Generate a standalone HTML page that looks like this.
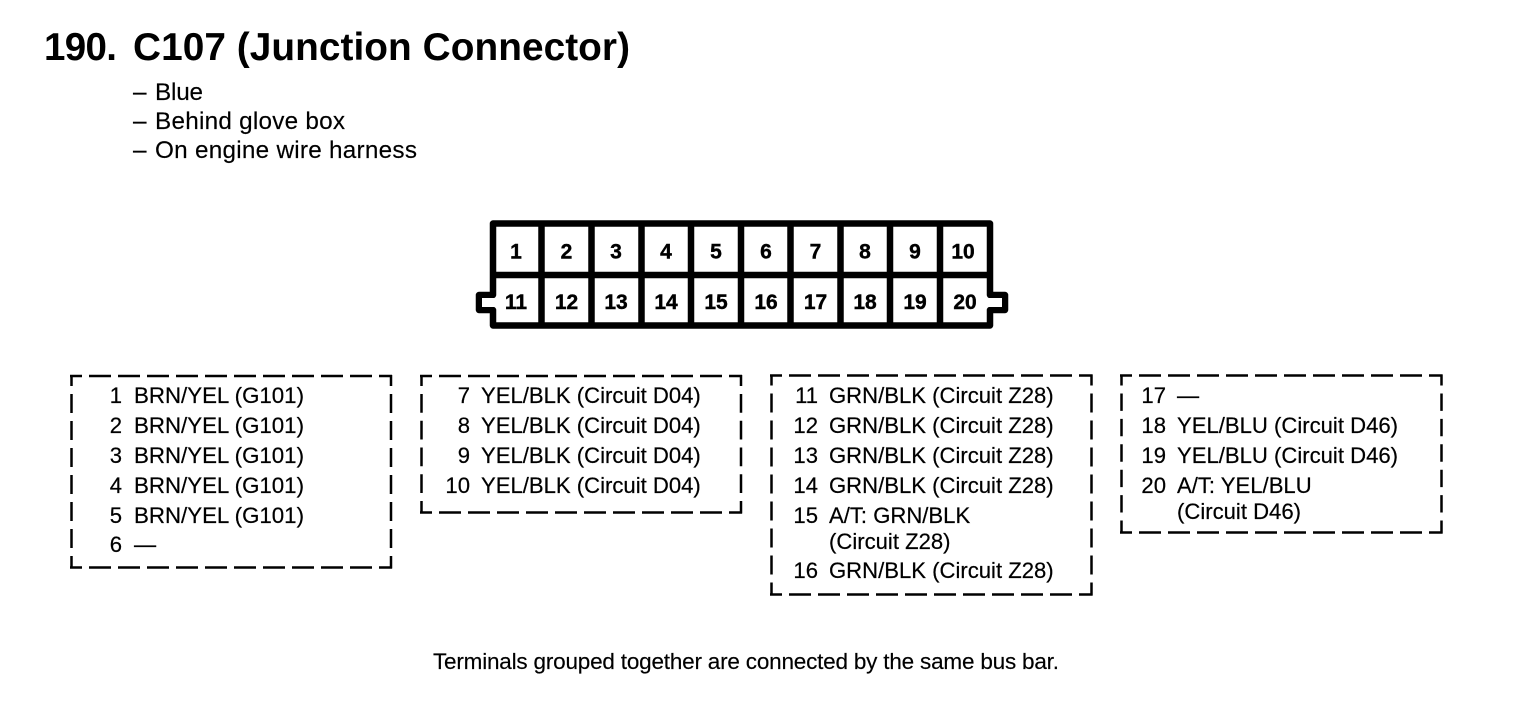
<!DOCTYPE html>
<html><head><meta charset="utf-8"><style>
html,body{margin:0;padding:0;background:#fff}
svg{display:block}
text{font-family:"Liberation Sans",sans-serif;fill:#000}
.b{font-size:22.1px;stroke:#000;stroke-width:.2px}
.g{font-size:22.3px}
.s{font-size:24.300px;stroke:#000;stroke-width:.15px}
.n{font-size:21px;font-weight:bold;text-anchor:middle;stroke:#000;stroke-width:.4px}
.r{text-anchor:end}
</style></head><body>
<svg width="1536" height="712" viewBox="0 0 1536 712" xmlns="http://www.w3.org/2000/svg">
<text x="44" y="60" font-size="38.500" font-weight="bold" textLength="73">190.</text>
<text x="133" y="60" font-size="38.800" font-weight="bold" textLength="497">C107 (Junction Connector)</text>
<text class="s" x="133" y="100">–</text><text class="s" x="155" y="100" textLength="48">Blue</text>
<text class="s" x="133" y="129">–</text><text class="s" x="155" y="129" textLength="190">Behind glove box</text>
<text class="s" x="133" y="158">–</text><text class="s" x="155" y="158" textLength="262">On engine wire harness</text>

<g fill="none" stroke="#000" stroke-width="6.500" stroke-linejoin="round">
<path d="M493 223.500H990V295H1005V310H990V325.500H493V310H479V295H493Z"/>
<path d="M493 275H990M541.500 223V325M591.500 223V325M641.500 223V325M691 223V325M741 223V325M790.500 223V325M840.500 223V325M890 223V325M940 223V325"/>
</g>
<path d="M482 298H497V307H482ZM986 298H1002V307H986Z" fill="#fff"/>
<text class="n" x="516" y="258.500">1</text><text class="n" x="566.500" y="258.500">2</text><text class="n" x="616" y="258.500">3</text><text class="n" x="666" y="258.500">4</text><text class="n" x="716" y="258.500">5</text><text class="n" x="766" y="258.500">6</text><text class="n" x="815.500" y="258.500">7</text><text class="n" x="865" y="258.500">8</text><text class="n" x="915" y="258.500">9</text><text class="n" x="963" y="258.500">10</text>
<text class="n" x="516" y="309">11</text><text class="n" x="566.500" y="309">12</text><text class="n" x="616" y="309">13</text><text class="n" x="666" y="309">14</text><text class="n" x="716" y="309">15</text><text class="n" x="766" y="309">16</text><text class="n" x="815.500" y="309">17</text><text class="n" x="865" y="309">18</text><text class="n" x="915" y="309">19</text><text class="n" x="965" y="309">20</text>

<g fill="none" stroke="#000" stroke-width="2.500">
<g stroke-dasharray="22 7" stroke-dashoffset="10">
<path d="M70 376H392M70 567.500H392"/>
<path d="M420 376H742M420 512.500H742"/>
<path d="M770 375.500H1092.500M770 594.500H1092.500"/>
<path d="M1120 375.500H1442.500M1120 532.500H1442.500"/>
</g>
<path stroke-dasharray="19 8" stroke-dashoffset="8" d="M71.500 375V568.500M391 375V568.500"/>
<path stroke-dasharray="18.750 8" stroke-dashoffset="7.750" d="M421.500 375V513.500M741 375V513.500"/>
<path stroke-dasharray="19 8" stroke-dashoffset="8" d="M771.500 374.500V595.500M1091.500 374.500V595.500"/>
<path stroke-dasharray="17.400 8" stroke-dashoffset="6.400" d="M1121.500 374.500V533.500M1441.500 374.500V533.500"/>
</g>

<text class="b r" x="122" y="403">1</text><text class="b g" x="134" y="403" textLength="170">BRN/YEL (G101)</text>
<text class="b r" x="122" y="433">2</text><text class="b g" x="134" y="433" textLength="170">BRN/YEL (G101)</text>
<text class="b r" x="122" y="463">3</text><text class="b g" x="134" y="463" textLength="170">BRN/YEL (G101)</text>
<text class="b r" x="122" y="493">4</text><text class="b g" x="134" y="493" textLength="170">BRN/YEL (G101)</text>
<text class="b r" x="122" y="523">5</text><text class="b g" x="134" y="523" textLength="170">BRN/YEL (G101)</text>
<text class="b r" x="122" y="552">6</text><text class="b" x="134" y="552">—</text>

<text class="b r" x="470" y="403">7</text><text class="b" x="481" y="403">YEL/BLK (Circuit D04)</text>
<text class="b r" x="470" y="433">8</text><text class="b" x="481" y="433">YEL/BLK (Circuit D04)</text>
<text class="b r" x="470" y="463">9</text><text class="b" x="481" y="463">YEL/BLK (Circuit D04)</text>
<text class="b r" x="470" y="493">10</text><text class="b" x="481" y="493">YEL/BLK (Circuit D04)</text>

<text class="b r" x="818" y="403">11</text><text class="b" x="829" y="403">GRN/BLK (Circuit Z28)</text>
<text class="b r" x="818" y="433">12</text><text class="b" x="829" y="433">GRN/BLK (Circuit Z28)</text>
<text class="b r" x="818" y="463">13</text><text class="b" x="829" y="463">GRN/BLK (Circuit Z28)</text>
<text class="b r" x="818" y="493">14</text><text class="b" x="829" y="493">GRN/BLK (Circuit Z28)</text>
<text class="b r" x="818" y="523">15</text><text class="b" x="829" y="523">A/T: GRN/BLK</text>
<text class="b" x="829" y="549">(Circuit Z28)</text>
<text class="b r" x="818" y="578">16</text><text class="b" x="829" y="578">GRN/BLK (Circuit Z28)</text>

<text class="b r" x="1166" y="403">17</text><text class="b" x="1177" y="403">—</text>
<text class="b r" x="1166" y="433">18</text><text class="b" x="1177" y="433">YEL/BLU (Circuit D46)</text>
<text class="b r" x="1166" y="463">19</text><text class="b" x="1177" y="463">YEL/BLU (Circuit D46)</text>
<text class="b r" x="1166" y="493">20</text><text class="b" x="1177" y="493">A/T: YEL/BLU</text>
<text class="b" x="1177" y="519">(Circuit D46)</text>

<text x="433" y="669" font-size="22.500" stroke="#000" stroke-width=".15" textLength="626">Terminals grouped together are connected by the same bus bar.</text>
</svg>
</body></html>
